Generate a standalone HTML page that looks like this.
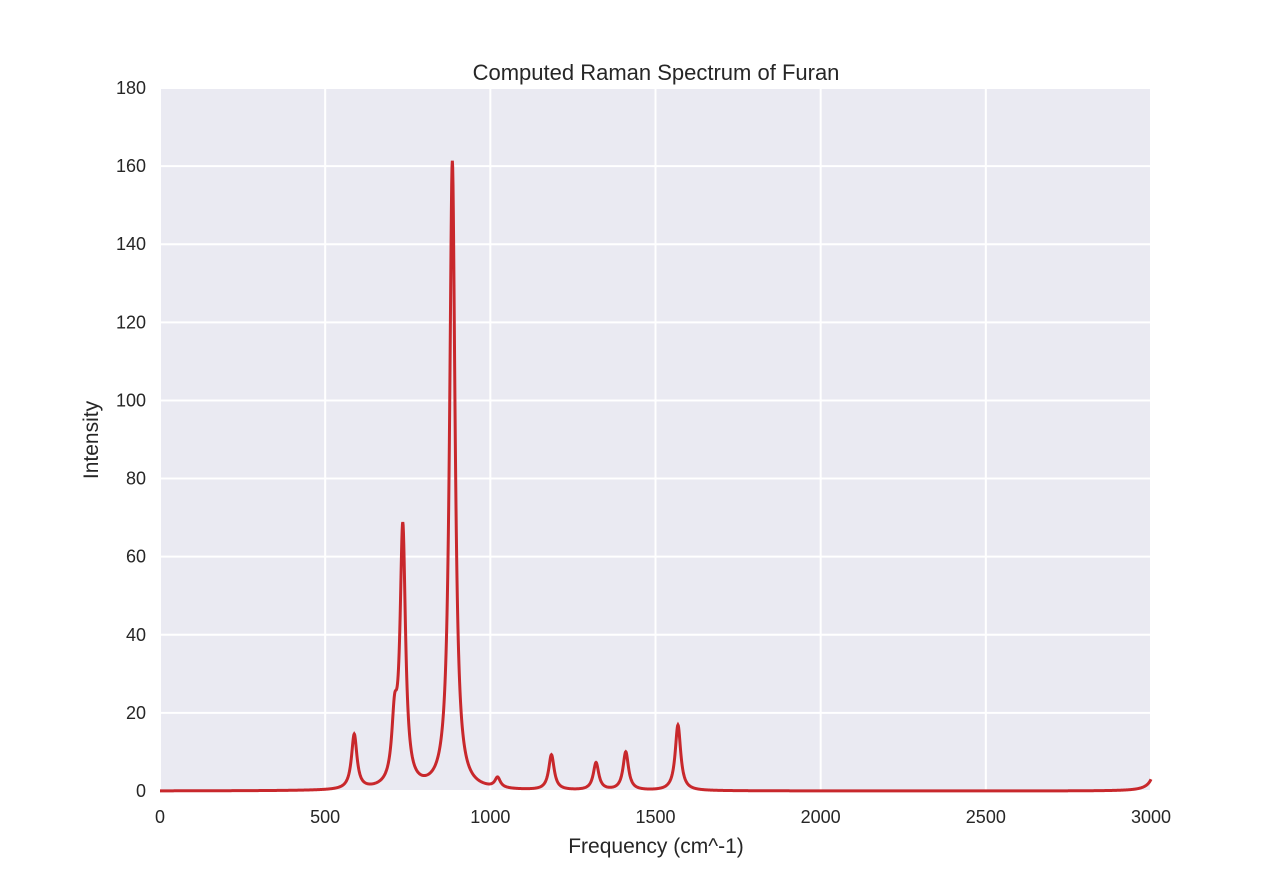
<!DOCTYPE html>
<html><head><meta charset="utf-8"><style>
body{margin:0;background:#fff;}
text{font-family:"Liberation Sans",sans-serif;fill:#262626;}
</style></head><body>
<svg id="chart" width="1280" height="880">
<rect x="160" y="88" width="991" height="703" fill="#eaeaf2"/>
<g id="grid"></g>
<g id="ticks"></g>
<path id="line" fill="none" stroke="#c8282c" stroke-width="3"/>
<text x="656" y="80" text-anchor="middle" font-size="22">Computed Raman Spectrum of Furan</text>
<text x="656" y="853" text-anchor="middle" font-size="21">Frequency (cm^-1)</text>
<text x="98" y="440" text-anchor="middle" font-size="21" transform="rotate(-90 98 440)">Intensity</text>
</svg>
<script>
const peakFreqs=[588,710,735,885,1022,1185,1320,1410,1568,3030];
const peakHeights=[14,15,66,161,2.6,9,7,9.8,16.8,30];
const xTicks=[0,500,1000,1500,2000,2500,3000];
const yTicks=[0,20,40,60,80,100,120,140,160,180];
const gamma=10;
const X0=160,X1=1151,Y0=791,Y1=88;
const xs=v=>X0+(v-0)/3000*(X1-X0);
const ys=v=>Y0-(v/180)*(Y0-Y1);
const ns="http://www.w3.org/2000/svg";
const grid=document.getElementById('grid'),ticks=document.getElementById('ticks');
xTicks.forEach(t=>{
 const l=document.createElementNS(ns,'line');
 l.setAttribute('x1',xs(t));l.setAttribute('x2',xs(t));l.setAttribute('y1',Y1);l.setAttribute('y2',Y0);
 l.setAttribute('stroke','#fff');l.setAttribute('stroke-width','2');
 
 
 grid.appendChild(l);
 const tx=document.createElementNS(ns,'text');
 tx.setAttribute('x',xs(t));tx.setAttribute('y',Y0+32);tx.setAttribute('text-anchor','middle');tx.setAttribute('font-size','18');
 tx.textContent=t;
 
 
 ticks.appendChild(tx);
});
yTicks.forEach(t=>{
 const l=document.createElementNS(ns,'line');
 l.setAttribute('x1',X0);l.setAttribute('x2',X1);l.setAttribute('y1',ys(t));l.setAttribute('y2',ys(t));
 l.setAttribute('stroke','#fff');l.setAttribute('stroke-width','2');
 
 
 grid.appendChild(l);
 const tx=document.createElementNS(ns,'text');
 tx.setAttribute('x',X0-14);tx.setAttribute('y',ys(t)+6);tx.setAttribute('text-anchor','end');tx.setAttribute('font-size','18');
 tx.textContent=t;
 
 
 ticks.appendChild(tx);
});
let d='';
for(let f=0;f<=3000;f+=1){
 let v=0;
 for(let i=0;i<peakFreqs.length;i++){const u=(f-peakFreqs[i])/gamma;v+=peakHeights[i]/(1+u*u);}
 d+=(f?'L':'M')+xs(f).toFixed(2)+','+ys(v).toFixed(2);
}
document.getElementById('line').setAttribute('d',d);
</script>
</body></html>
